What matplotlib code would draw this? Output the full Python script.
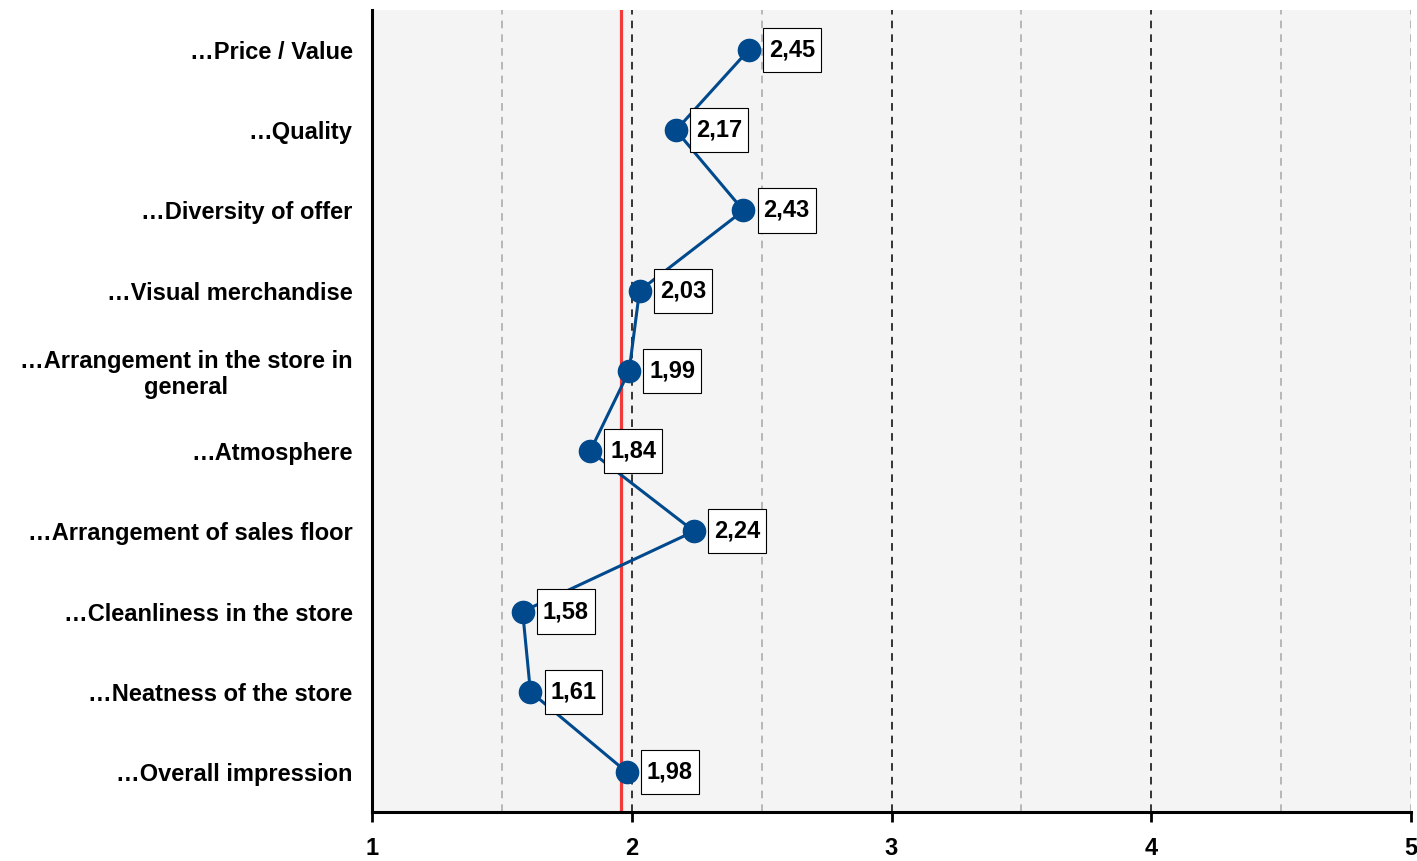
import matplotlib
matplotlib.use("Agg")
import matplotlib.pyplot as plt
from matplotlib.path import Path
import numpy as np

plt.rcParams['font.family'] = ['Liberation Sans', 'DejaVu Sans']
plt.rcParams['font.weight'] = 'bold'

# Bewertungskriterien (von oben nach unten) und Mittelwerte
categories = [
    "…Price / Value",
    "…Quality",
    "…Diversity of offer",
    "…Visual merchandise",
    "…Arrangement in the store in\ngeneral",
    "…Atmosphere",
    "…Arrangement of sales floor",
    "…Cleanliness in the store",
    "…Neatness of the store",
    "…Overall impression",
]
values = [2.45, 2.17, 2.43, 2.03, 1.99, 1.84, 2.24, 1.58, 1.61, 1.98]
reference_value = 1.96
x_ticks = [1, 2, 3, 4, 5]

blue = '#00498c'
red = '#f23a3a'


def label_box(x0, y0, width, height, mutation_size):
    # Rechteck mit getrenntem Innenabstand horizontal / vertikal
    px = 0.25 * mutation_size
    py = 0.45 * mutation_size
    x0, x1 = x0 - px, x0 + width + px
    y0, y1 = y0 - py, y0 + height + py
    return Path([(x0, y0), (x1, y0), (x1, y1), (x0, y1), (x0, y0)], closed=True)


fig = plt.figure(figsize=(14.17, 8.61), dpi=100)
ax = fig.add_axes([0.2625, 0.0569, 0.7333, 0.9315])
ax.set_facecolor('#f4f4f4')

ypos = np.arange(len(categories))

# Hilfslinien
for x in [1.5, 2.5, 3.5, 4.5, 5]:
    ax.axvline(x, color='#a6a6a6', lw=1.1, dashes=(5, 4), zorder=1)
for x in [2, 3, 4]:
    ax.axvline(x, color='black', lw=1.1, dashes=(5, 4), zorder=1)

ax.axvline(reference_value, color=red, lw=2.3, zorder=2)

ax.plot(values, ypos, color=blue, lw=2.2, marker='o', markersize=16, zorder=3)

for v, y in zip(values, ypos):
    ax.annotate(f"{v:.2f}".replace('.', ','), xy=(v, y), xytext=(14.5, 0),
                textcoords='offset points', ha='left', va='center',
                fontsize=17, fontweight='bold', zorder=4,
                bbox=dict(boxstyle=label_box, fc='white', ec='black', lw=0.8))

ax.set_xlim(1, 5)
ax.set_ylim(len(categories) - 0.5, -0.5)
ax.set_xticks(x_ticks)
ax.set_xticklabels([str(t) for t in x_ticks], fontsize=17, fontweight='bold')
ax.set_yticks(ypos)
ax.set_yticklabels(categories, fontsize=17, fontweight='bold',
                   multialignment='center', linespacing=1.15)

ax.tick_params(axis='x', length=7, width=2, pad=11)
ax.tick_params(axis='y', length=0, pad=14)

for side in ['top', 'right']:
    ax.spines[side].set_visible(False)
ax.spines['left'].set_linewidth(2.2)
ax.spines['bottom'].set_linewidth(2.2)

fig.savefig('out.png', dpi=100)
